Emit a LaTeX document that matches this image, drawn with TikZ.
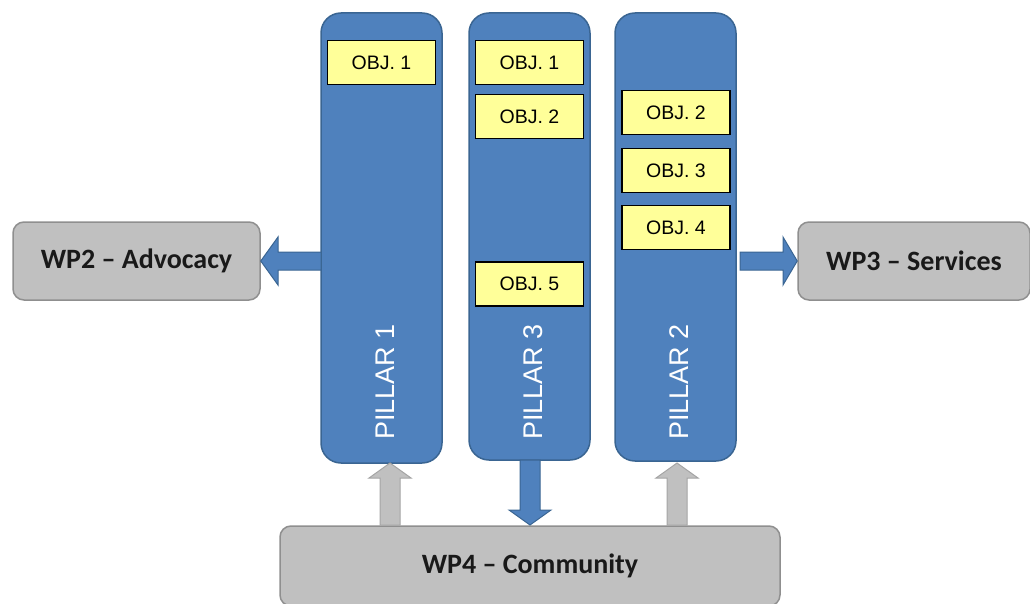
\documentclass[tikz,border=0pt]{standalone}
\usepackage{fontspec}
\setmainfont{Liberation Sans}
\newfontfamily\wpfont{Carlito}
\usetikzlibrary{calc}
\definecolor{pblue}{HTML}{4F81BD}
\definecolor{pborder}{HTML}{3A6592}
\definecolor{oyellow}{HTML}{FFFF99}
\definecolor{wgray}{HTML}{C0C0C0}
\definecolor{wborder}{HTML}{8F8F8F}
\tikzset{
  pillar/.style={draw=pborder, line width=1.5pt, fill=pblue, rounded corners=20pt},
  objbox/.style={draw=black, line width=1.3pt, fill=oyellow, minimum width=108pt, minimum height=44pt, inner sep=0pt, font=\fontsize{19.5}{22}\selectfont},
  wpbox/.style={draw=wborder, line width=1.5pt, fill=wgray, rounded corners=11pt, inner sep=0pt, font=\wpfont\bfseries\fontsize{28}{30}\selectfont, text=black!90},
  plabel/.style={rotate=90, anchor=west, text=white, inner sep=0pt, font=\fontsize{27}{30}\selectfont},
  barrow/.style={draw=pborder, line width=1pt, fill=pblue},
  garrow/.style={draw=wborder!80, line width=1pt, fill=wgray},
}
\begin{document}
\begin{tikzpicture}[x=1pt,y=-1pt]
\useasboundingbox (0,0) rectangle (1030,604);
% pillars
\draw[pillar] (321,13) rectangle (442,463);
\draw[pillar] (469,13) rectangle (590,460);
\draw[pillar] (615,13) rectangle (736,461);
\coordinate (p1L) at (321,261);
\coordinate (p2R) at (740,261);
\node[plabel] (t1) at (385,440) {PILLAR 1};
\node[plabel] (t3) at (533,440) {PILLAR 3};
\node[plabel] (t2) at (679,440) {PILLAR 2};
% objectives
\node[objbox] (a1) at (381.5,62.5) {OBJ. 1};
\node[objbox] (c1) at (529.5,62.5) {OBJ. 1};
\node[objbox] (c2) at (529.5,116.5) {OBJ. 2};
\node[objbox] (c5) at (529.5,284) {OBJ. 5};
\node[objbox] (b2) at (676,112.5) {OBJ. 2};
\node[objbox] (b3) at (676,170.5) {OBJ. 3};
\node[objbox] (b4) at (676,227.5) {OBJ. 4};
% WP boxes
\node[wpbox, minimum width=247pt, minimum height=78pt] (wp2) at (136.5,261) {WP2 – Advocacy};
\node[wpbox, minimum width=232pt, minimum height=78pt] (wp3) at (914,261) {WP3 – Services};
\node[wpbox, minimum width=500pt, minimum height=80pt] (wp4) at (530,566) {WP4 – Community};
% arrows
\draw[barrow] (p1L) ++(0,-9) -- (278,252) -- (278,237) -- (wp2.east) -- (278,285) -- (278,270) -- (321,270) -- cycle;
\draw[barrow] (p2R) ++(0,-9) -- (783,252) -- (783,237) -- (wp3.west) -- (783,285) -- (783,270) -- (740,270) -- cycle;
\draw[garrow] (380,525) -- (380,478) -- (369,478) -- (390,463) -- (411,478) -- (400,478) -- (400,525) -- cycle;
\draw[garrow] (667,525) -- (667,478) -- (656,478) -- (677,463) -- (698,478) -- (687,478) -- (687,525) -- cycle;
\draw[barrow] (520,460) -- (520,510) -- (509,510) -- (530,525) -- (551,510) -- (540,510) -- (540,460) -- cycle;
\end{tikzpicture}
\end{document}
